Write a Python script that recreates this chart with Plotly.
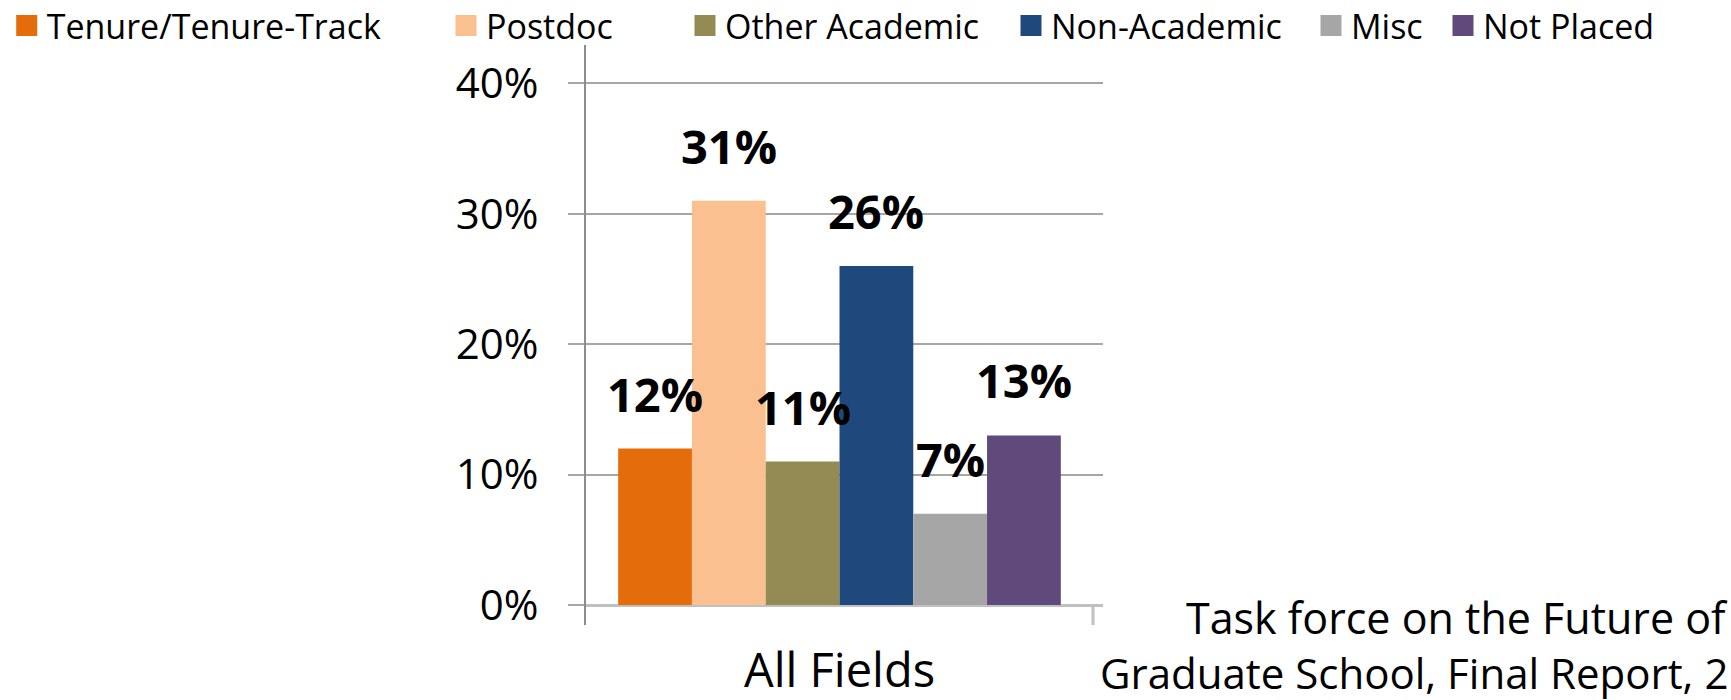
import plotly.graph_objects as go

# ---------------- data ----------------
categories = ["All Fields"]
series_names = ["Tenure/Tenure-Track", "Postdoc", "Other Academic",
                "Non-Academic", "Misc", "Not Placed"]
series_values = [12, 31, 11, 26, 7, 13]
series_colors = ["#E46C0A", "#FAC090", "#948A54", "#1F497D", "#A6A6A6", "#604A7B"]
y_tick_values = [0, 10, 20, 30, 40]
y_tick_labels = ["0%", "10%", "20%", "30%", "40%"]
source_lines = ["Task force on the Future of", "Graduate School, Final Report, 2"]

# ---------------- layout constants ----------------
W, H = 1731, 700
PLOT_LEFT, PLOT_RIGHT, PLOT_TOP, PLOT_BOTTOM = 586, 1103, 45, 625
L, R, T, B = PLOT_LEFT, W - PLOT_RIGHT, PLOT_TOP, H - PLOT_BOTTOM
PW, PH = W - L - R, H - T - B
ZERO_PX = 605                             # row of 0 %
PX_PER_UNIT = 13.04                       # pixels per 1 %
AXIS_END_PX = 1093                        # right end of category axis
BARGAP = 0.127
FONT = "Open Sans"
GRID = "#a6a6a6"

y_range = [-(PLOT_BOTTOM - ZERO_PX) / PX_PER_UNIT, (ZERO_PX - PLOT_TOP) / PX_PER_UNIT]
cat_px = AXIS_END_PX - PLOT_LEFT
x_range = [-0.5, -0.5 + PW / cat_px]

def px_x(px):
    return (px - L) / PW

def px_y(py):
    return (PLOT_BOTTOM - py) / PH

fig = go.Figure()

n = len(series_names)
gw = 1 - BARGAP
for i, (name, val, col) in enumerate(zip(series_names, series_values, series_colors)):
    fig.add_trace(go.Bar(
        x=categories, y=[val], name=name,
        marker=dict(color=col, line=dict(width=0)),
        showlegend=False, hoverinfo="skip",
    ))
    # value label
    fig.add_annotation(
        x=-gw / 2 + (i + 0.5) * gw / n, y=val, xref="x", yref="y",
        text=f"<b>{val}%</b>", showarrow=False,
        xanchor="center", yanchor="bottom", yshift=21,
        font=dict(family=FONT, size=47, color="#000000"),
    )

# legend entries (one legend per entry so each sits where the original has it)
legend_text_starts = [46.7, 486, 725, 1051, 1351, 1483]
for i, (name, col) in enumerate(zip(series_names, series_colors)):
    key = "legend" if i == 0 else f"legend{i + 1}"
    fig.add_trace(go.Scatter(
        x=[None], y=[None], mode="markers", name=name,
        marker=dict(symbol="square", size=16, color=col, line=dict(color=col, width=5)),
        legend=key, hoverinfo="skip",
    ))
    fig.update_layout({key: dict(
        x=(legend_text_starts[i] - 40) / W, xref="container", xanchor="left",
        y=1 - 26 / H, yref="container", yanchor="middle",
        orientation="h", bgcolor="rgba(0,0,0,0)", borderwidth=0,
        font=dict(family=FONT, size=34, color="#000000"),
    )})

# source note
fig.add_annotation(x=px_x(1730), y=px_y(617), xref="paper", yref="paper",
                   text=source_lines[0], showarrow=False, xanchor="right", yanchor="middle",
                   font=dict(family=FONT, size=43, color="#000000"))
fig.add_annotation(x=px_x(1730), y=px_y(672), xref="paper", yref="paper",
                   text=source_lines[1], showarrow=False, xanchor="right", yanchor="middle",
                   font=dict(family=FONT, size=42, color="#000000"))

# right-hand end tick of the category axis
fig.add_shape(type="line", xref="x", yref="y", x0=0.5, x1=0.5, y0=0, y1=y_range[0],
              line=dict(color="#c0c0c0", width=3))

fig.update_layout(
    width=W, height=H,
    margin=dict(l=L, r=R, t=T, b=B, autoexpand=False),
    template="none",
    paper_bgcolor="white", plot_bgcolor="white",
    barmode="group", bargap=BARGAP, bargroupgap=0,
    hovermode=False,
    font=dict(family=FONT, color="#000000"),
    xaxis=dict(type="category", range=x_range, showgrid=False, zeroline=False,
               showline=False, ticks="", ticklabelstandoff=14,
               tickfont=dict(family=FONT, size=47, color="#000000")),
    yaxis=dict(range=y_range, tickvals=y_tick_values, ticktext=y_tick_labels,
               showgrid=True, gridcolor=GRID, gridwidth=2,
               zeroline=True, zerolinecolor="#c0c0c0", zerolinewidth=3,
               showline=True, linecolor="#8c8c8c", linewidth=2,
               ticks="outside", ticklen=16, tickwidth=2, tickcolor=GRID,
               ticklabelstandoff=21,
               tickfont=dict(family=FONT, size=42, color="#000000")),
)

# the figure fills the whole window: drop the page's default body margin
fig.write_html("out.html", config={"displayModeBar": False},
               post_script="document.body.style.margin = '0px';")
